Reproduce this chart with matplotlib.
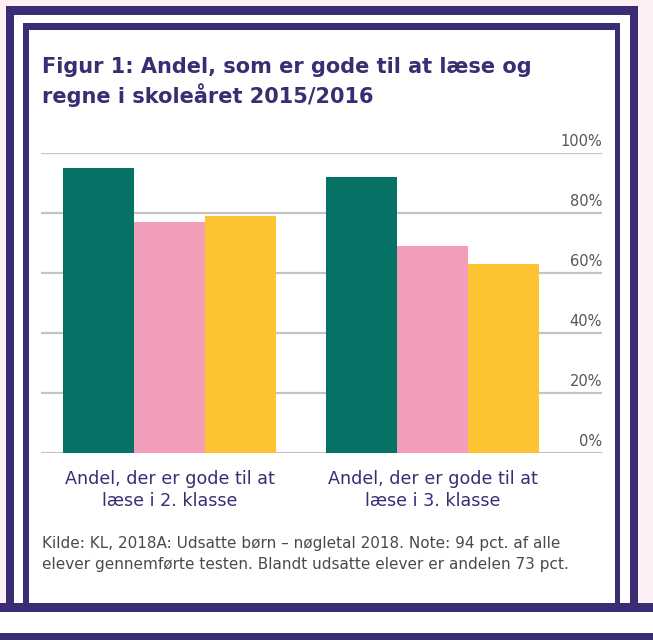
import matplotlib
matplotlib.use("Agg")
import matplotlib.pyplot as plt
from matplotlib.patches import Rectangle
import matplotlib.transforms as mtrans

# --- Daten ---
categories = ["Andel, der er gode til at\nlæse i 2. klasse",
              "Andel, der er gode til at\nlæse i 3. klasse"]
series_a = [95, 92]   # gruen
series_b = [77, 69]   # rosa
series_c = [79, 63]   # gelb
yticks = [0, 20, 40, 60, 80, 100]

title = "Figur 1: Andel, som er gode til at læse og\nregne i skoleåret 2015/2016"
note = ("Kilde: KL, 2018A: Udsatte børn – nøgletal 2018. Note: 94 pct. af alle\n"
        "elever gennemførte testen. Blandt udsatte elever er andelen 73 pct.")

PURPLE = "#3a2d73"
GREEN = "#067265"
PINK = "#f29eb8"
YELLOW = "#fdc332"
GRAY = "#555555"
BG = "#fcf0f4"

plt.rcParams["font.family"] = ["DejaVu Sans"]

W, H = 653, 640
fig = plt.figure(figsize=(W / 100, H / 100), dpi=100, facecolor=BG)

# Rahmen in Pixelkoordinaten
frame = fig.add_axes([0, 0, 1, 1])
frame.set_xlim(0, W)
frame.set_ylim(H, 0)
frame.axis("off")


def box(x0, y0, x1, y1, color):
    frame.add_patch(Rectangle((x0, y0), x1 - x0, y1 - y0, color=color, lw=0))


box(6, 6, 638, 612, PURPLE)
box(14, 15, 630, 603, "white")
box(23, 23, 620, 603, PURPLE)
box(29, 30, 615, 603, "white")
box(0, 603, W, 612, PURPLE)
box(0, 612, W, 633, "white")
box(0, 633, W, H, PURPLE)

frame.text(42, 82, title, color=PURPLE, fontsize=15.0, fontweight="bold",
           va="center", ha="left", linespacing=1.3)
frame.text(42, 554, note, color="#4a4a4a", fontsize=11.0,
           va="center", ha="left", linespacing=1.5)

# --- Diagramm ---
ax = fig.add_axes([41 / W, (H - 453) / H, 561 / W, 300 / H])
ax.set_facecolor("none")
x = [0, 1]
w = 0.27
ax.bar([i - w for i in x], series_a, w, color=GREEN, zorder=3)
ax.bar(x, series_b, w, color=PINK, zorder=3)
ax.bar([i + w for i in x], series_c, w, color=YELLOW, zorder=3)

ax.set_xlim(-0.49, 1.643)
ax.set_ylim(0, 100)
for s in ax.spines.values():
    s.set_visible(False)
ax.set_yticks(yticks)
ax.yaxis.grid(True, color="#c4c4c4", lw=1.6, zorder=0)
ax.tick_params(left=False, bottom=False, labelleft=False)

trans = mtrans.blended_transform_factory(ax.transAxes, ax.transData)
for v in yticks:
    ax.text(1.0, v + 1.2, f"{v}%", transform=trans, ha="right", va="bottom",
            color=GRAY, fontsize=10.5)

ax.set_xticks(x)
ax.set_xticklabels(categories, color=PURPLE, fontsize=12.6, linespacing=1.25)
ax.tick_params(axis="x", pad=9)

fig.savefig("out.png", dpi=100, facecolor=BG)
